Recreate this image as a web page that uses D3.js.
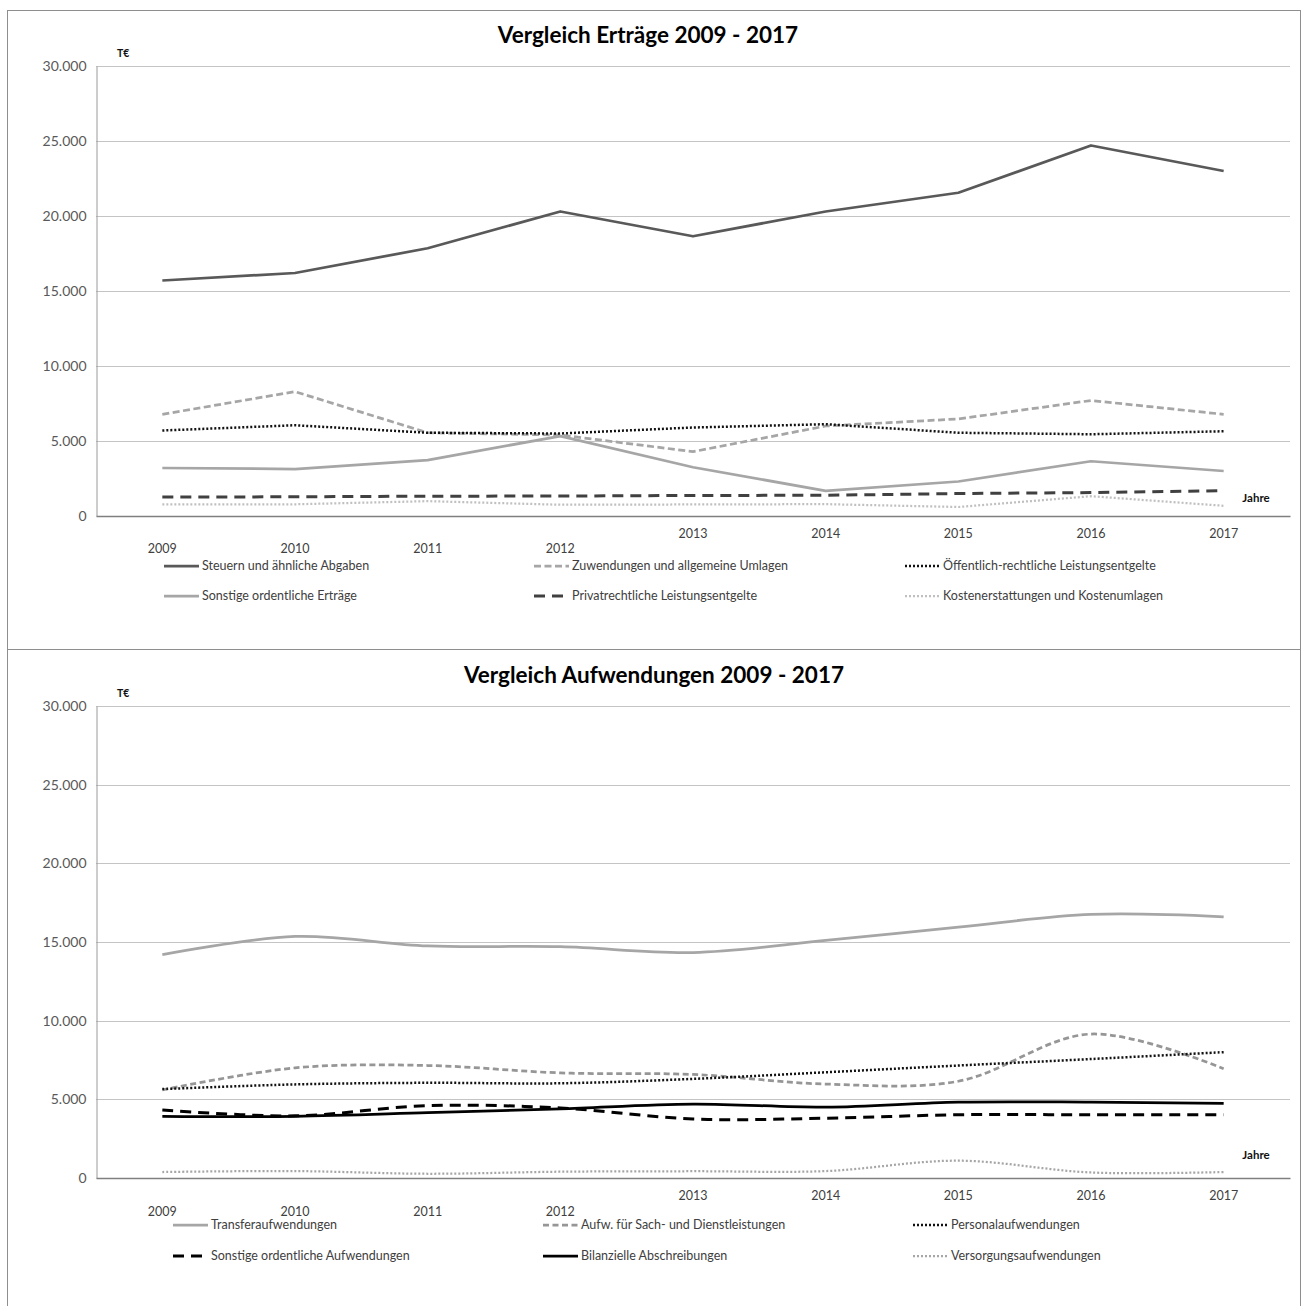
<!DOCTYPE html>
<html lang="de">
<head>
<meta charset="utf-8">
<script src="https://cdn.jsdelivr.net/npm/d3@7"></script>
<style>
  html, body { margin: 0; padding: 0; background: #fff; }
  svg { display: block; font-family: Lato, "Open Sans", "Liberation Sans", sans-serif; }
</style>
</head>
<body>
<svg id="chart" width="1307" height="1306"></svg>
<script>
// Kategorien der x-Achse
const jahre = ["2009", "2010", "2011", "2012", "2013", "2014", "2015", "2016", "2017"];
// Teilstriche der y-Achse (T€)
const yTicks = [0, 5000, 10000, 15000, 20000, 25000, 30000];

// Erträge in T€
const ertraegeTitel = "Vergleich Erträge 2009 - 2017";
const ertraegeNamen = [
  "Steuern und ähnliche Abgaben",
  "Zuwendungen und allgemeine Umlagen",
  "Öffentlich-rechtliche Leistungsentgelte",
  "Sonstige ordentliche Erträge",
  "Privatrechtliche Leistungsentgelte",
  "Kostenerstattungen und Kostenumlagen"
];
const steuern            = [15700, 16200, 17850, 20300, 18650, 20300, 21550, 24700, 23000];
const zuwendungen        = [6780, 8290, 5550, 5400, 4290, 6000, 6470, 7700, 6780];
const oeffentlich        = [5700, 6050, 5550, 5500, 5900, 6120, 5550, 5450, 5650];
const sonstigeErtraege   = [3200, 3130, 3730, 5330, 3250, 1680, 2300, 3650, 3000];
const privatrechtlich    = [1260, 1280, 1320, 1330, 1370, 1380, 1500, 1560, 1690];
const kostenerstattungen = [780, 780, 990, 750, 770, 790, 600, 1320, 680];

// Aufwendungen in T€
const aufwendungenTitel = "Vergleich Aufwendungen 2009 - 2017";
const aufwendungenNamen = [
  "Transferaufwendungen",
  "Aufw. für Sach- und Dienstleistungen",
  "Personalaufwendungen",
  "Sonstige ordentliche Aufwendungen",
  "Bilanzielle Abschreibungen",
  "Versorgungsaufwendungen"
];
const transfer       = [14200, 15350, 14750, 14700, 14330, 15100, 15950, 16750, 16600];
const sachDienst     = [5600, 7000, 7150, 6680, 6580, 5970, 6150, 9150, 6950];
const personal       = [5650, 5950, 6050, 6020, 6300, 6720, 7150, 7560, 8000];
const sonstigeAufw   = [4320, 3950, 4600, 4450, 3750, 3800, 4020, 4020, 4020];
const abschreibungen = [3920, 3920, 4150, 4400, 4700, 4500, 4820, 4820, 4740];
const versorgung     = [380, 440, 270, 400, 430, 440, 1100, 350, 380];

// Linienstile
const stil = {
  dunkelVoll:    { stroke: "#595959", width: 2.75, dash: null },
  grauStrich:    { stroke: "#a6a6a6", width: 2.75, dash: "7,3.5" },
  schwarzPunkt:  { stroke: "#111111", width: 2.5,  dash: "2,2" },
  grauVoll:      { stroke: "#a6a6a6", width: 2.75, dash: null },
  dunkelLang:    { stroke: "#404040", width: 3,    dash: "11,7" },
  hellPunkt:     { stroke: "#c0c0c0", width: 2.25, dash: "2,2" },
  mittelStrich:  { stroke: "#969696", width: 2.75, dash: "6,3.5" },
  schwarzLang:   { stroke: "#000000", width: 3,    dash: "11,7" },
  schwarzVoll:   { stroke: "#000000", width: 2.75, dash: null },
  grauPunkt:     { stroke: "#a6a6a6", width: 2.25, dash: "2,2" }
};

const de = d3.formatLocale({ decimal: ",", thousands: ".", grouping: [3], currency: ["", " €"] });
const fmt = de.format(",.0f");

const svg = d3.select("#chart");

function zeichnePanel(cfg) {
  const g = svg.append("g");

  // Rahmen des Diagrammbereichs
  g.append("rect")
    .attr("x", cfg.frame[0]).attr("y", cfg.frame[1])
    .attr("width", cfg.frame[2]).attr("height", cfg.frame[3])
    .attr("fill", "#fff").attr("stroke", "#8e8e8e").attr("stroke-width", 1);

  const x = d3.scaleBand().domain(jahre).range([cfg.left, cfg.right]);
  const y = d3.scaleLinear().domain([0, 30000]).range([cfg.bottom, cfg.top]);
  const cx = j => x(j) + x.bandwidth() / 2;

  // Titel
  g.append("text")
    .attr("x", cfg.titleX).attr("y", cfg.titleY)
    .attr("text-anchor", "middle")
    .attr("font-size", 22.5).attr("font-weight", 700).attr("fill", "#000")
    .text(cfg.titel);

  // Einheit
  g.append("text")
    .attr("x", cfg.left + 21).attr("y", cfg.top - 9)
    .attr("font-size", 10.5).attr("font-weight", 700).attr("fill", "#111")
    .text("T€");

  // Gitterlinien
  g.append("g").selectAll("line")
    .data(yTicks.filter(v => v > 0))
    .join("line")
    .attr("x1", cfg.left).attr("x2", cfg.right)
    .attr("y1", d => Math.round(y(d)) + 0.5).attr("y2", d => Math.round(y(d)) + 0.5)
    .attr("stroke", "#c4c4c4").attr("stroke-width", 1);

  // y-Achse
  const yAxis = d3.axisLeft(y).tickValues(yTicks).tickFormat(fmt)
    .tickSize(0).tickPadding(10);
  const ya = g.append("g").attr("transform", `translate(${cfg.left + 0.5},0)`).call(yAxis);
  ya.select(".domain").attr("stroke", "#9a9a9a").attr("stroke-width", 1);
  ya.selectAll("text").attr("font-size", 14).attr("fill", "#595959")
    .attr("font-family", "Lato, 'Open Sans', sans-serif");

  // x-Achse
  const xAxis = d3.axisBottom(x).tickSize(0).tickSizeOuter(0);
  const xa = g.append("g").attr("transform", `translate(0,${cfg.bottom})`).call(xAxis);
  xa.select(".domain").attr("stroke", "#7f7f7f").attr("stroke-width", 1.5);
  xa.selectAll("text")
    .attr("font-size", 12.5).attr("fill", "#404040")
    .attr("font-family", "Lato, 'Open Sans', sans-serif")
    .attr("dy", "0.35em")
    .attr("y", (d, i) => i < 4 ? cfg.lowLabel : cfg.highLabel);

  // Achsentitel
  g.append("text")
    .attr("x", cfg.right - 34).attr("y", cfg.bottom + cfg.jahreY)
    .attr("dy", "0.35em")
    .attr("text-anchor", "middle")
    .attr("font-size", 11.5).attr("font-weight", 700).attr("fill", "#111")
    .text("Jahre");

  // Linien
  const reihen = cfg.reihen;
  reihen.forEach(r => {
    const line = d3.line()
      .x((d, i) => cx(jahre[i]))
      .y(d => y(d))
      .curve(cfg.curve);
    g.append("path")
      .datum(r.werte)
      .attr("d", line)
      .attr("fill", "none")
      .attr("stroke", r.stil.stroke)
      .attr("stroke-width", r.stil.width)
      .attr("stroke-dasharray", r.stil.dash)
      .attr("stroke-linejoin", "round");
  });

  // Legende
  reihen.forEach((r, i) => {
    const col = i % 3, row = Math.floor(i / 3);
    const lx = cfg.legendCols[col], ly = cfg.legendRows[row];
    g.append("line")
      .attr("x1", lx).attr("x2", lx + 35)
      .attr("y1", ly).attr("y2", ly)
      .attr("stroke", r.stil.stroke)
      .attr("stroke-width", r.stil.width)
      .attr("stroke-dasharray", r.stil.dash);
    g.append("text")
      .attr("x", lx + 38).attr("y", ly)
      .attr("dy", "0.35em")
      .attr("font-size", 12.5).attr("fill", "#404040")
      .text(r.name);
  });
}

const ertraegeWerte = [steuern, zuwendungen, oeffentlich, sonstigeErtraege, privatrechtlich, kostenerstattungen];
const ertraegeStile = [stil.dunkelVoll, stil.grauStrich, stil.schwarzPunkt, stil.grauVoll, stil.dunkelLang, stil.hellPunkt];
const aufwendungenWerte = [transfer, sachDienst, personal, sonstigeAufw, abschreibungen, versorgung];
const aufwendungenStile = [stil.grauVoll, stil.mittelStrich, stil.schwarzPunkt, stil.schwarzLang, stil.schwarzVoll, stil.grauPunkt];

zeichnePanel({
  titel: ertraegeTitel,
  frame: [7.5, 10.5, 1293, 639],
  titleX: 648, titleY: 43,
  left: 96, right: 1290, top: 66, bottom: 516,
  lowLabel: 33, highLabel: 18, jahreY: -18.5,
  legendCols: [164, 534, 905], legendRows: [566, 596],
  curve: d3.curveLinear,
  reihen: ertraegeNamen.map((n, i) => ({ name: n, werte: ertraegeWerte[i], stil: ertraegeStile[i] }))
});

zeichnePanel({
  titel: aufwendungenTitel,
  frame: [7.5, 649.5, 1293, 670],
  titleX: 654, titleY: 683,
  left: 96, right: 1290, top: 706, bottom: 1178,
  lowLabel: 34, highLabel: 18, jahreY: -23.5,
  legendCols: [173, 543, 913], legendRows: [1225, 1256],
  curve: d3.curveCatmullRom.alpha(0.5),
  reihen: aufwendungenNamen.map((n, i) => ({ name: n, werte: aufwendungenWerte[i], stil: aufwendungenStile[i] }))
});
</script>
</body>
</html>
